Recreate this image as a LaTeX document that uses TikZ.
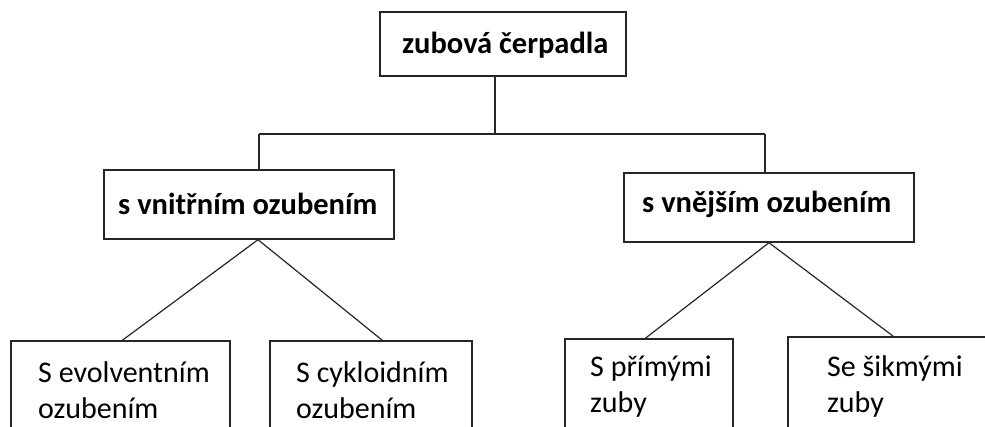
\documentclass[tikz,border=0pt]{standalone}
\usepackage{fontspec}
\setmainfont{Carlito}
\usetikzlibrary{calc}
\tikzset{
  box/.style={draw=black!85, line width=1.4pt, rectangle, inner sep=0pt},
  conn/.style={draw=black!85, line width=1.2pt},
  lbl/.style={anchor=base west, inner sep=0pt, font=\fontsize{30.5}{36}\selectfont\bfseries},
  txt/.style={anchor=base west, inner sep=0pt, align=left, font=\fontsize{30}{36}\selectfont},
}
\begin{document}
\begin{tikzpicture}[x=1pt,y=-1pt]
\useasboundingbox (0,0) rectangle (985,427);
\clip (0,0) rectangle (985,427);
\fill[white] (0,0) rectangle (985,427);
% boxes
\node[box, minimum width=246pt, minimum height=64pt] (top) at (503,44) {};
\node[box, minimum width=290pt, minimum height=69pt] (m1) at (249,204.5) {};
\node[box, minimum width=290pt, minimum height=69pt] (m2) at (769,207.5) {};
\node[box, minimum width=219pt, minimum height=120pt] (b1) at (120.5,401) {};
\node[box, minimum width=202pt, minimum height=120pt] (b2) at (371,401) {};
\node[box, minimum width=168pt, minimum height=120pt] (b3) at (649,399) {};
\node[box, minimum width=212pt, minimum height=120pt] (b4) at (894,397) {};
% texts
\node[lbl] (ttop) at (402,54) {zubová čerpadla};
\node[lbl] (tm1) at (118,215) {s vnitřním ozubením};
\node[lbl] (tm2) at (642,213) {s vnějším ozubením};
\node[txt] (tb1a) at (38,382) {S evolventním};
\node[txt] (tb1b) at (38,418) {ozubením};
\node[txt] (tb2a) at (296,382) {S cykloidním};
\node[txt] (tb2b) at (296,418) {ozubením};
\node[txt] (tb3a) at (590,377) {S přímými};
\node[txt] (tb3b) at (590,413) {zuby};
\node[txt] (tb4a) at (827,377) {Se šikmými};
\node[txt] (tb4b) at (827,413) {zuby};
% connectors
\coordinate (j) at (495,134);
\coordinate (hl) at (259,134);
\coordinate (hr) at (765,134);
\draw[conn] (top.south -| j) -- (j);
\draw[conn] (hl) -- (hr);
\draw[conn] (hl) -- (hl |- m1.north);
\draw[conn] (hr) -- (hr |- m2.north);
\coordinate (a1) at ($(m1.south)+(9,0)$);
\coordinate (a2) at ($(m2.south)+(0,0)$);
\draw[conn] (a1) -- ($(b1.north west)+(112,0)$);
\draw[conn] (a1) -- ($(b2.north west)+(113,0)$);
\draw[conn] (a2) -- ($(b3.north west)+(81,0)$);
\draw[conn] (a2) -- ($(b4.north west)+(106,0)$);
\end{tikzpicture}
\end{document}
